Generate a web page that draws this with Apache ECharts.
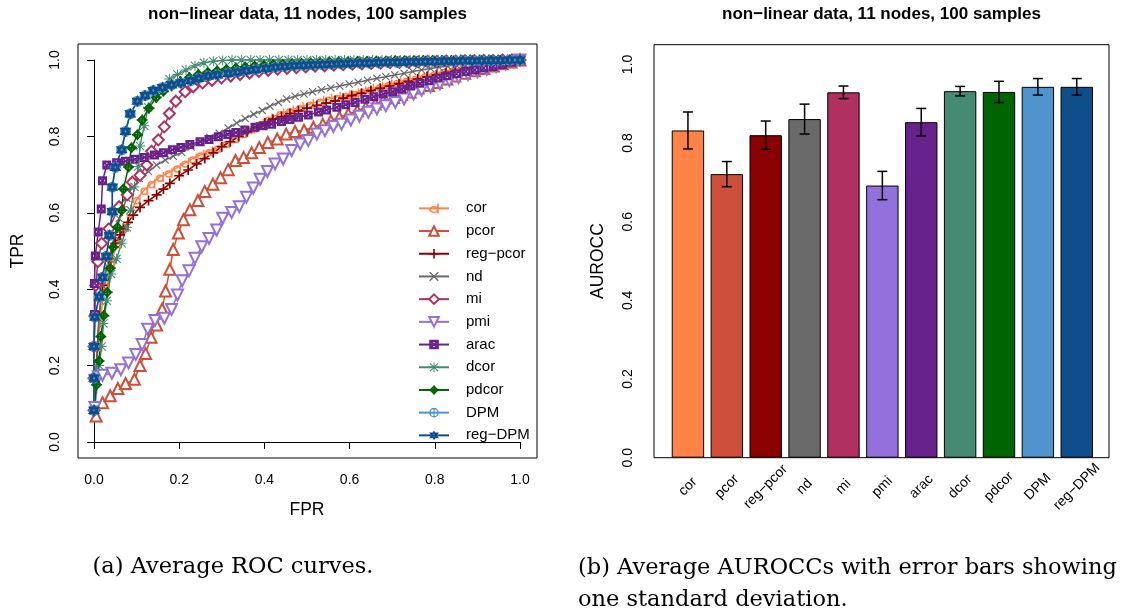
<!DOCTYPE html>
<html><head><meta charset="utf-8">
<script src="https://cdn.jsdelivr.net/npm/echarts/dist/echarts.min.js"></script>
<style>html,body{margin:0;padding:0;background:#fff}#c{width:1121px;height:613px}</style>
</head><body><div id="c"></div>
<script>
// ---------- data ----------
const methods = ['cor','pcor','reg\u2212pcor','nd','mi','pmi','arac','dcor','pdcor','DPM','reg\u2212DPM'];
const colors  = ['#FF8247','#CD4F39','#8B0000','#696969','#B03060','#9370DB','#68228B','#458B74','#006400','#4F94CD','#104E8B'];
const barMeans = [0.832,0.721,0.820,0.861,0.929,0.692,0.853,0.932,0.930,0.943,0.943];
const barSD    = [0.047,0.032,0.036,0.038,0.016,0.036,0.035,0.012,0.027,0.021,0.021];

const rocCor = [[0,0.083],[0.004,0.167],[0.01,0.25],[0.016,0.33],[0.025,0.41],[0.04,0.47],[0.055,0.52],[0.073,0.562],[0.085,0.6],[0.1,0.635],[0.118,0.66],[0.135,0.677],[0.155,0.694],[0.175,0.705],[0.195,0.718],[0.214,0.731],[0.232,0.742],[0.25,0.752],[0.27,0.761],[0.29,0.77],[0.31,0.782],[0.33,0.795],[0.35,0.808],[0.37,0.82],[0.39,0.833],[0.41,0.846],[0.437,0.86],[0.46,0.868],[0.483,0.876],[0.507,0.885],[0.531,0.893],[0.55,0.898],[0.57,0.903],[0.593,0.908],[0.613,0.913],[0.63,0.918],[0.648,0.924],[0.67,0.93],[0.691,0.936],[0.712,0.942],[0.734,0.948],[0.755,0.953],[0.777,0.959],[0.798,0.964],[0.82,0.97],[0.842,0.975],[0.864,0.979],[0.886,0.983],[0.908,0.987],[0.93,0.991],[0.952,0.994],[0.976,0.997],[1,1]];
const rocPcor = [[0.005,0.068],[0.02,0.103],[0.038,0.121],[0.056,0.14],[0.074,0.153],[0.095,0.164],[0.108,0.2],[0.121,0.232],[0.134,0.274],[0.147,0.306],[0.16,0.348],[0.168,0.395],[0.178,0.452],[0.186,0.504],[0.198,0.547],[0.21,0.582],[0.225,0.608],[0.244,0.632],[0.26,0.656],[0.279,0.675],[0.297,0.692],[0.315,0.713],[0.332,0.737],[0.351,0.745],[0.37,0.757],[0.388,0.771],[0.408,0.784],[0.43,0.793],[0.451,0.806],[0.472,0.813],[0.493,0.816],[0.515,0.824],[0.537,0.832],[0.556,0.841],[0.576,0.85],[0.597,0.859],[0.618,0.867],[0.638,0.876],[0.66,0.885],[0.679,0.893],[0.703,0.902],[0.722,0.91],[0.742,0.916],[0.761,0.927],[0.785,0.933],[0.804,0.941],[0.828,0.95],[0.847,0.958],[0.87,0.965],[0.893,0.972],[0.915,0.978],[0.937,0.984],[0.958,0.99],[0.979,0.995],[1,1]];
const rocRegPcor = [[0,0.083],[0.004,0.167],[0.008,0.25],[0.012,0.33],[0.02,0.41],[0.035,0.48],[0.05,0.52],[0.061,0.542],[0.069,0.558],[0.08,0.575],[0.092,0.594],[0.108,0.614],[0.128,0.632],[0.147,0.647],[0.163,0.662],[0.178,0.677],[0.2,0.697],[0.221,0.712],[0.241,0.728],[0.26,0.742],[0.28,0.757],[0.3,0.773],[0.32,0.786],[0.34,0.8],[0.36,0.812],[0.382,0.824],[0.401,0.835],[0.42,0.845],[0.44,0.852],[0.46,0.86],[0.48,0.867],[0.5,0.874],[0.523,0.881],[0.545,0.887],[0.566,0.893],[0.585,0.9],[0.605,0.907],[0.628,0.913],[0.65,0.92],[0.672,0.926],[0.694,0.932],[0.716,0.938],[0.738,0.944],[0.76,0.95],[0.782,0.956],[0.804,0.961],[0.826,0.966],[0.848,0.971],[0.87,0.976],[0.892,0.981],[0.914,0.985],[0.936,0.989],[0.958,0.993],[0.979,0.997],[1,1]];
const rocNd = [[0,0.083],[0.004,0.167],[0.008,0.25],[0.012,0.33],[0.02,0.41],[0.035,0.48],[0.048,0.54],[0.059,0.585],[0.077,0.638],[0.088,0.668],[0.106,0.69],[0.128,0.708],[0.147,0.725],[0.167,0.738],[0.186,0.748],[0.206,0.758],[0.228,0.772],[0.25,0.785],[0.272,0.797],[0.294,0.808],[0.315,0.822],[0.335,0.835],[0.355,0.847],[0.375,0.858],[0.395,0.868],[0.413,0.879],[0.433,0.889],[0.452,0.898],[0.472,0.905],[0.493,0.911],[0.513,0.917],[0.534,0.922],[0.556,0.927],[0.577,0.932],[0.599,0.937],[0.62,0.942],[0.642,0.947],[0.664,0.952],[0.685,0.956],[0.706,0.961],[0.728,0.965],[0.748,0.97],[0.769,0.974],[0.79,0.978],[0.81,0.981],[0.83,0.984],[0.85,0.987],[0.87,0.989],[0.89,0.991],[0.91,0.993],[0.93,0.995],[0.95,0.997],[0.975,0.999],[1,1]];
const rocMi = [[0,0.083],[0,0.167],[0,0.25],[0.002,0.33],[0.004,0.41],[0.009,0.472],[0.018,0.52],[0.035,0.558],[0.059,0.616],[0.078,0.647],[0.09,0.68],[0.108,0.698],[0.124,0.725],[0.135,0.761],[0.151,0.791],[0.165,0.825],[0.177,0.86],[0.192,0.892],[0.214,0.917],[0.233,0.93],[0.255,0.94],[0.277,0.947],[0.299,0.953],[0.321,0.958],[0.343,0.962],[0.365,0.966],[0.387,0.97],[0.409,0.973],[0.431,0.976],[0.453,0.978],[0.475,0.98],[0.497,0.982],[0.519,0.984],[0.541,0.985],[0.563,0.987],[0.585,0.988],[0.607,0.989],[0.629,0.99],[0.651,0.991],[0.673,0.992],[0.695,0.993],[0.717,0.994],[0.739,0.994],[0.761,0.995],[0.783,0.996],[0.805,0.996],[0.827,0.997],[0.849,0.997],[0.871,0.998],[0.893,0.998],[0.915,0.999],[0.937,0.999],[0.959,1],[0.981,1],[1,1]];
const rocPmi = [[0.002,0.09],[0.01,0.17],[0.02,0.175],[0.042,0.18],[0.063,0.189],[0.081,0.207],[0.098,0.229],[0.113,0.255],[0.126,0.295],[0.143,0.318],[0.165,0.324],[0.182,0.347],[0.196,0.385],[0.207,0.422],[0.223,0.448],[0.237,0.481],[0.253,0.511],[0.27,0.533],[0.288,0.555],[0.302,0.586],[0.323,0.601],[0.341,0.616],[0.358,0.641],[0.374,0.665],[0.39,0.688],[0.407,0.708],[0.425,0.728],[0.444,0.741],[0.464,0.763],[0.484,0.78],[0.503,0.789],[0.523,0.806],[0.542,0.815],[0.562,0.826],[0.581,0.832],[0.603,0.843],[0.623,0.853],[0.644,0.863],[0.664,0.872],[0.685,0.88],[0.707,0.889],[0.728,0.898],[0.75,0.911],[0.769,0.921],[0.79,0.93],[0.812,0.938],[0.834,0.946],[0.856,0.954],[0.878,0.962],[0.9,0.969],[0.922,0.976],[0.944,0.983],[0.966,0.99],[0.985,0.996],[1,1]];
const rocArac = [[0,0.083],[0,0.167],[0,0.25],[0.001,0.334],[0.001,0.415],[0.003,0.487],[0.01,0.55],[0.017,0.61],[0.02,0.684],[0.03,0.725],[0.053,0.731],[0.074,0.735],[0.096,0.74],[0.118,0.745],[0.142,0.751],[0.163,0.757],[0.184,0.765],[0.204,0.771],[0.225,0.779],[0.249,0.786],[0.27,0.792],[0.292,0.799],[0.314,0.805],[0.333,0.81],[0.354,0.817],[0.378,0.824],[0.397,0.828],[0.417,0.832],[0.44,0.839],[0.46,0.844],[0.48,0.85],[0.503,0.856],[0.527,0.864],[0.546,0.869],[0.57,0.876],[0.591,0.883],[0.613,0.889],[0.636,0.897],[0.657,0.904],[0.679,0.911],[0.701,0.917],[0.722,0.924],[0.743,0.932],[0.765,0.939],[0.787,0.946],[0.808,0.953],[0.829,0.959],[0.851,0.964],[0.873,0.97],[0.894,0.974],[0.915,0.979],[0.937,0.983],[0.959,0.988],[0.98,0.994],[1,1]];
const rocDcor = [[0,0.083],[0.004,0.167],[0.012,0.2],[0.018,0.25],[0.022,0.31],[0.03,0.37],[0.04,0.44],[0.053,0.48],[0.065,0.52],[0.077,0.562],[0.086,0.607],[0.095,0.668],[0.104,0.721],[0.108,0.775],[0.118,0.828],[0.127,0.876],[0.15,0.922],[0.177,0.95],[0.196,0.962],[0.216,0.974],[0.237,0.985],[0.258,0.993],[0.28,0.997],[0.302,0.999],[0.324,1],[0.346,1],[0.368,1],[0.39,1],[0.412,1],[0.434,1],[0.456,1],[0.478,1],[0.5,1],[0.522,1],[0.544,1],[0.566,1],[0.588,1],[0.61,1],[0.632,1],[0.654,1],[0.676,1],[0.698,1],[0.72,1],[0.742,1],[0.764,1],[0.786,1],[0.808,1],[0.83,1],[0.852,1],[0.874,1],[0.896,1],[0.918,1],[0.94,1],[0.962,1],[0.984,1],[1,1]];
const rocPdcor = [[0,0.083],[0.006,0.15],[0.012,0.212],[0.016,0.276],[0.023,0.331],[0.031,0.392],[0.038,0.455],[0.045,0.51],[0.055,0.562],[0.065,0.607],[0.069,0.662],[0.081,0.72],[0.088,0.77],[0.102,0.804],[0.113,0.843],[0.129,0.874],[0.146,0.902],[0.163,0.918],[0.182,0.932],[0.203,0.944],[0.224,0.954],[0.245,0.962],[0.267,0.968],[0.289,0.972],[0.311,0.976],[0.333,0.979],[0.355,0.982],[0.377,0.984],[0.399,0.986],[0.421,0.988],[0.443,0.989],[0.465,0.99],[0.487,0.991],[0.509,0.992],[0.531,0.993],[0.553,0.994],[0.575,0.995],[0.597,0.995],[0.619,0.996],[0.641,0.996],[0.663,0.997],[0.685,0.997],[0.707,0.998],[0.729,0.998],[0.751,0.998],[0.773,0.999],[0.795,0.999],[0.817,0.999],[0.839,0.999],[0.861,1],[0.883,1],[0.905,1],[0.927,1],[0.949,1],[0.971,1],[1,1]];
const rocDPM = [[0,0.083],[0,0.167],[0,0.25],[0.002,0.327],[0.012,0.38],[0.02,0.431],[0.029,0.486],[0.036,0.541],[0.043,0.603],[0.043,0.667],[0.05,0.719],[0.065,0.765],[0.074,0.813],[0.085,0.859],[0.102,0.892],[0.12,0.907],[0.139,0.92],[0.161,0.928],[0.182,0.935],[0.204,0.94],[0.227,0.946],[0.246,0.952],[0.268,0.958],[0.29,0.961],[0.315,0.965],[0.337,0.968],[0.358,0.972],[0.38,0.975],[0.404,0.978],[0.426,0.981],[0.448,0.983],[0.47,0.985],[0.492,0.986],[0.514,0.987],[0.536,0.988],[0.558,0.989],[0.58,0.99],[0.602,0.991],[0.624,0.992],[0.646,0.992],[0.668,0.993],[0.69,0.994],[0.712,0.994],[0.734,0.995],[0.756,0.995],[0.778,0.996],[0.8,0.996],[0.822,0.997],[0.844,0.997],[0.866,0.998],[0.888,0.998],[0.91,0.998],[0.932,0.999],[0.954,0.999],[0.976,1],[1,1]];
const rocRegDPM = [[0,0.083],[0,0.167],[0,0.25],[0.002,0.327],[0.012,0.38],[0.02,0.431],[0.029,0.486],[0.036,0.541],[0.043,0.603],[0.043,0.667],[0.05,0.719],[0.065,0.765],[0.074,0.813],[0.085,0.859],[0.102,0.892],[0.12,0.907],[0.139,0.92],[0.161,0.928],[0.182,0.935],[0.204,0.94],[0.227,0.946],[0.246,0.952],[0.268,0.958],[0.29,0.961],[0.315,0.965],[0.337,0.968],[0.358,0.972],[0.38,0.975],[0.404,0.978],[0.426,0.981],[0.448,0.983],[0.47,0.985],[0.492,0.986],[0.514,0.987],[0.536,0.988],[0.558,0.989],[0.58,0.99],[0.602,0.991],[0.624,0.992],[0.646,0.992],[0.668,0.993],[0.69,0.994],[0.712,0.994],[0.734,0.995],[0.756,0.995],[0.778,0.996],[0.8,0.996],[0.822,0.997],[0.844,0.997],[0.866,0.998],[0.888,0.998],[0.91,0.998],[0.932,0.999],[0.954,0.999],[0.976,1],[1,1]];
const rocCurves = [rocCor,rocPcor,rocRegPcor,rocNd,rocMi,rocPmi,rocArac,rocDcor,rocPdcor,rocDPM,rocRegDPM];

// ---------- styles ----------
const FONT = '"Liberation Sans", Arial, Helvetica, sans-serif';
const SERIF = '"DejaVu Serif", "Liberation Serif", serif';
const P = {
  d: 'path://M2,12A7,7 0 1,1 16,12A7,7 0 1,1 2,12ZM4.8,12A4.2,4.2 0 1,0 13.2,12A4.2,4.2 0 1,0 4.8,12ZM13.6,0H16V19H13.6Z',
  plus: 'path://M8.3,0H11.7V8.3H20V11.7H11.7V20H8.3V11.7H0V8.3H8.3Z',
  cross: 'path://M2,0L10,8L18,0L20,2L12,10L20,18L18,20L10,12L2,20L0,18L8,10L0,2Z',
  star: 'path://M9,0H11V9H20V11H11V20H9V11H0V9H9ZM2.5,1L10,8.5L17.5,1L19,2.5L11.5,10L19,17.5L17.5,19L10,11.5L2.5,19L1,17.5L8.5,10L1,2.5Z',
  sqx: 'path://M0,0H20V20H0ZM7.5,5L10,7.5L12.5,5ZM15,7.5L12.5,10L15,12.5ZM12.5,15L10,12.5L7.5,15ZM5,12.5L7.5,10L5,7.5Z',
  dplus: 'path://M10,0L20,10L10,20L0,10ZM10,5L5,10L10,15L15,10ZM8.5,0H11.5V20H8.5ZM0,8.5H20V11.5H0Z',
  cplus: 'path://M0,10A10,10 0 1,1 20,10A10,10 0 1,1 0,10ZM2.8,10A7.2,7.2 0 1,0 17.2,10A7.2,7.2 0 1,0 2.8,10ZM8.8,0H11.2V20H8.8ZM0,8.8H20V11.2H0Z',
  david: 'path://M10,0L19.5,16H0.5ZM10,7.2L6.6,12.6H13.4ZM0.5,4H19.5L10,20ZM6.6,7.4L10,12.8L13.4,7.4Z'
};
const symbols = [P.d,'emptyTriangle',P.plus,P.cross,'emptyDiamond','emptyTriangle',P.sqx,P.star,P.dplus,P.cplus,P.david];
const symSizes = [[8,10],11,10,8,11,11,9,10,11,11,12];
const symRot = [0,0,0,0,0,180,0,0,0,0,0];
const emptySym = [false,true,false,false,true,true,false,false,false,false,false];

const rocSeries = methods.map((m,i)=>({
  type:'line', name:m, data:rocCurves[i], xAxisIndex:0, yAxisIndex:0,
  symbol:symbols[i], symbolSize:symSizes[i], symbolRotate:symRot[i],
  showAllSymbol:true, clip:false, animation:false, silent:true,
  lineStyle:{color:colors[i], width:1.5},
  itemStyle:{color:colors[i], borderColor:colors[i], borderWidth: emptySym[i]?1.7:0}
}));

const barSeries = {
  type:'bar', xAxisIndex:2, yAxisIndex:2, barWidth:32.4, animation:false, silent:true,
  data: barMeans.map((v,i)=>({value:v, itemStyle:{color:colors[i]}})),
  itemStyle:{borderColor:'#000', borderWidth:1}
};
const errSeries = {
  type:'custom', xAxisIndex:2, yAxisIndex:2, animation:false, silent:true, z:5,
  data: barMeans.map((v,i)=>[i, v-barSD[i], v+barSD[i]]),
  encode:{x:0, y:[1,2]},
  renderItem:(params, api)=>{
    const lo = api.coord([api.value(0), api.value(1)]);
    const hi = api.coord([api.value(0), api.value(2)]);
    const st = {stroke:'#000', lineWidth:1.5};
    return {type:'group', children:[
      {type:'line', shape:{x1:lo[0],y1:lo[1],x2:hi[0],y2:hi[1]}, style:st},
      {type:'line', shape:{x1:lo[0]-5,y1:lo[1],x2:lo[0]+5,y2:lo[1]}, style:st},
      {type:'line', shape:{x1:hi[0]-5,y1:hi[1],x2:hi[0]+5,y2:hi[1]}, style:st}
    ]};
  }
};

const blankAxis = (g)=>({gridIndex:g, type:'value', show:false, min:0, max:1});
const txt = {fontFamily:FONT, color:'#000'};

const option = {
  backgroundColor:'#fff',
  animation:false,
  title:[
    {text:'non\u2212linear data, 11 nodes, 100 samples', left:307.5, top:6, textAlign:'center', padding:0,
      textStyle:{...txt, fontSize:17, fontWeight:'bold'}},
    {text:'non\u2212linear data, 11 nodes, 100 samples', left:881.5, top:6, textAlign:'center', padding:0,
      textStyle:{...txt, fontSize:17, fontWeight:'bold'}},
    {text:'(a) Average ROC curves.', left:233, top:556, textAlign:'center', padding:0,
      textStyle:{fontFamily:SERIF, color:'#000', fontSize:22.5, fontWeight:'normal'}},
    {text:'(b) Average AUROCCs with error bars showing\none standard deviation.', left:578, top:552, padding:0,
      textStyle:{fontFamily:SERIF, color:'#000', fontSize:22.5, fontWeight:'normal', lineHeight:32}}
  ],
  legend:{
    data:methods, orient:'vertical', left:418, top:197, padding:0,
    itemWidth:30, itemHeight:12, itemGap:0, selectedMode:false,
    textStyle:{...txt, fontSize:15, lineHeight:22.7, padding:[0,0,0,12]},
    lineStyle:{type:'solid'}
  },
  grid:[
    {left:94, top:60, width:426, height:382, outerBoundsMode:'none'},
    {left:78, top:44, width:459, height:414, show:true, borderColor:'#000', borderWidth:1, backgroundColor:'transparent', outerBoundsMode:'none'},
    {left:668.5, top:64.4, width:427.7, height:393.3, outerBoundsMode:'none'},
    {left:654, top:44.7, width:455, height:413, show:true, borderColor:'#000', borderWidth:1, backgroundColor:'transparent', outerBoundsMode:'none'}
  ],
  xAxis:[
    {gridIndex:0, type:'value', min:0, max:1, interval:0.2, offset:16,
      axisLine:{show:true, lineStyle:{color:'#000', width:1}},
      axisTick:{show:true, length:7, lineStyle:{color:'#000'}},
      axisLabel:{...txt, fontSize:14, margin:15, formatter:v=>v.toFixed(1)},
      splitLine:{show:false},
      name:'FPR', nameLocation:'middle', nameGap:43, nameTextStyle:{...txt, fontSize:17.5}},
    blankAxis(1),
    {gridIndex:2, type:'category', data:methods,
      axisLine:{show:false}, axisTick:{show:false},
      axisLabel:{...txt, fontSize:14, rotate:45, margin:29, interval:0, align:'center', verticalAlign:'middle'},
      splitLine:{show:false}},
    blankAxis(3)
  ],
  yAxis:[
    {gridIndex:0, type:'value', min:0, max:1, interval:0.2, offset:16,
      axisLine:{show:true, lineStyle:{color:'#000', width:1}},
      axisTick:{show:true, length:7, lineStyle:{color:'#000'}},
      axisLabel:{...txt, fontSize:14, rotate:90, margin:16, formatter:v=>v.toFixed(1)},
      splitLine:{show:false},
      name:'TPR', nameLocation:'middle', nameGap:51, nameTextStyle:{...txt, fontSize:17.5}},
    blankAxis(1),
    {gridIndex:2, type:'value', min:0, max:1, interval:0.2, offset:14.5,
      axisLine:{show:false}, axisTick:{show:false},
      axisLabel:{...txt, fontSize:14, rotate:90, margin:19, formatter:v=>v.toFixed(1)},
      splitLine:{show:false},
      name:'AUROCC', nameLocation:'middle', nameGap:47, nameTextStyle:{...txt, fontSize:17.5}},
    blankAxis(3)
  ],
  series:[...rocSeries, barSeries, errSeries]
};
const chart = echarts.init(document.getElementById('c'), null, {renderer:'canvas'});
chart.setOption(option);
</script></body></html>
